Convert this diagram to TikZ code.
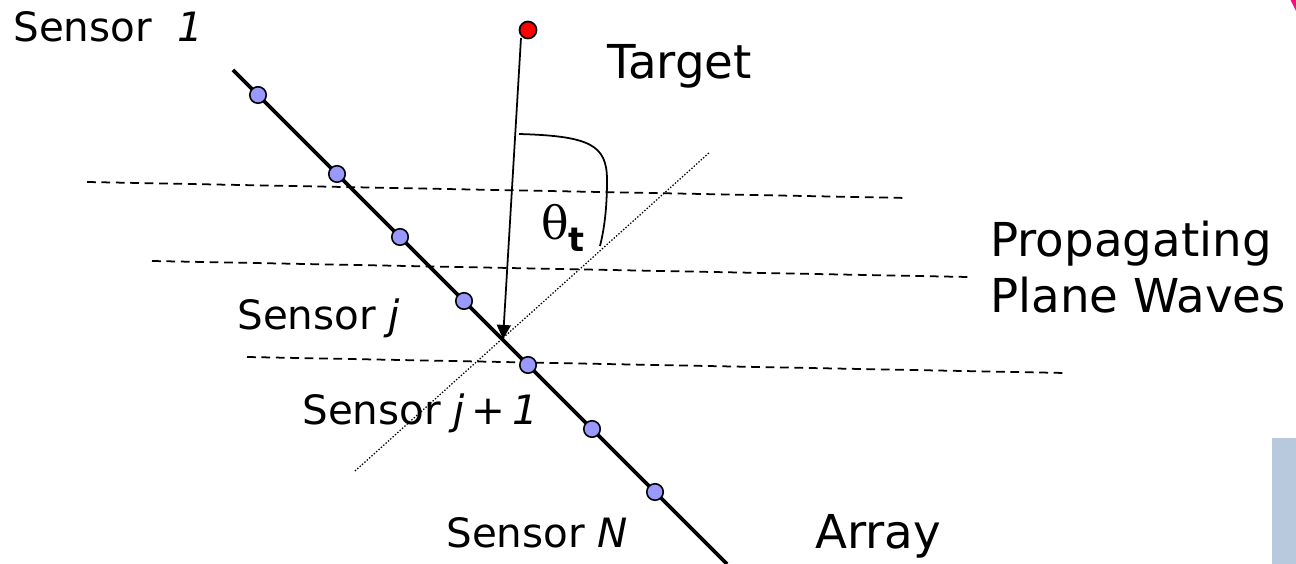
\documentclass[tikz,border=0pt]{standalone}
\usepackage{fontspec}
\setmainfont{DejaVu Sans}
\newfontfamily\greekfont{DejaVu Serif}
\usetikzlibrary{arrows.meta}

\definecolor{sensorblue}{HTML}{9999FF}
\definecolor{slideblue}{HTML}{B9C9DD}
\definecolor{slidepink}{HTML}{FF0A80}

\begin{document}
\begin{tikzpicture}[x=0.02cm, y=-0.02cm,
	sensor/.style={circle, draw=black, fill=sensorblue, line width=0.9pt, minimum size=0.33cm, inner sep=0pt},
	wave/.style={line width=1pt, dash pattern=on 5pt off 3.2pt},
	smalltext/.style={font=\fontsize{23}{28}\selectfont, anchor=base west, inner sep=0pt},
	bigtext/.style={font=\fontsize{26.6}{32}\selectfont, anchor=base west, inner sep=0pt}]

		\useasboundingbox (0,0) rectangle (1296,564);

		% Coordinates (pixels of the sketch, y downwards)
		\coordinate (top) at (233,70);
		\coordinate (bot) at (727,564);
		\coordinate (src) at (521,38);
		\coordinate (foot) at (503,339);
		\coordinate (d1) at (355,471);
		\coordinate (d2) at (710,152);

		% Plane waves (dashed)
		\coordinate (w1a) at (87,182);
		\coordinate (w1b) at (907,198);
		\coordinate (w2a) at (152,261);
		\coordinate (w2b) at (968,277);
		\coordinate (w3a) at (247,357);
		\coordinate (w3b) at (1065,373);
		\draw[wave] (w1a) -- (w1b);
		\draw[wave] (w2a) -- (w2b);
		\draw[wave] (w3a) -- (w3b);

		% Normal to the array (dotted)
		\draw[line width=0.7pt, dash pattern=on 0.8pt off 1pt] (d1) -- (d2);

		% Array line
		\draw[line width=2.2pt] (top) -- (bot);

		% Incoming ray from the target
		\draw[line width=1pt, -{Triangle[length=8pt, width=8pt]}] (src) -- (foot);

		% Angle mark
		\draw[line width=1pt] (519,134) .. controls (590,136) and (607,145) .. (607,180)
			.. controls (607,210) and (604,230) .. (600,246);

		% Sensors on the array
		\foreach \x [count=\i] in {258,337,400,464,528,592,655}
			\node[sensor] (s\i) at (\x,\x-163) {};

		% Target
		\node[circle, draw=black, fill=red, line width=1pt, minimum size=0.34cm, inner sep=0pt] (tgt) at (528,30) {};

		% Labels
		\node[smalltext] (lab1) at (13,42) {Sensor\ \ \textit{1}};
		\node[smalltext] (labj) at (237,330) {Sensor \textit{j}};
		\node[smalltext] (labjj) at (302,425) {Sensor \textit{j\,+\,1}};
		\node[smalltext] (labN) at (446,547) {Sensor \textit{N}};
		\node[bigtext] (labtgt) at (607,79) {Target};
		\node[bigtext] (labprop) at (990,257) {Propagating};
		\node[bigtext] (labplane) at ([yshift=-31.7pt]labprop.base west) {Plane Waves};
		\node[bigtext] (labarr) at (815,548) {Array};
		\node[anchor=base west, inner sep=0pt, font=\greekfont\fontsize{26}{30}\selectfont] (theta) at (541,240)
			{θ\raisebox{-6.8pt}{\fontsize{19}{22}\selectfont\rmfamily\bfseries t}};

		% Slide remains at the right edge
		\fill[slideblue] (1272,438) rectangle (1296,564);
		\fill[slidepink] (1290.5,0) -- (1296,0) -- (1296,11) -- cycle;

	\end{tikzpicture}
\end{document}
